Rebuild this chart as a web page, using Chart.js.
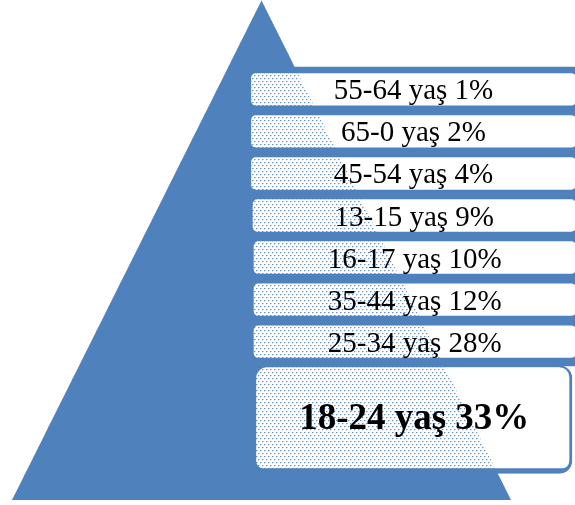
<!DOCTYPE html>
<html>
<head>
<meta charset="utf-8">
<script src="https://cdn.jsdelivr.net/npm/chart.js@4/dist/chart.umd.min.js"></script>
<style>
  html, body { margin: 0; padding: 0; background: #ffffff; }
  #wrap { width: 575px; height: 505px; }
</style>
</head>
<body>
<div id="wrap"><canvas id="c" width="575" height="505"></canvas></div>
<script>
// ---- data ----
const ageGroups = ['55-64 yaş', '65-0 yaş', '45-54 yaş', '13-15 yaş', '16-17 yaş', '35-44 yaş', '25-34 yaş', '18-24 yaş'];
const shares = [1, 2, 4, 9, 10, 12, 28, 33];
const suffix = '%';

// ---- layout (pixel-like units on a 575 x 505 linear grid) ----
const BLUE = '#4f81bd';
const pyramid = { apexX: 261.5, apexY: 0.5, baseY: 500, baseL: 12, baseR: 511 };
const band = { left: 262, right: 576, top: 67, bottom: 366 };
const smallBox = { top0: 73.5, step: 42.05, height: 31.7, right: 575.5, lefts: [251.5, 251.5, 251.5, 253, 254, 254, 254] };
const bigBox = { left: 254.5, right: 572, top: 365.5, bottom: 473.5 };

const nSmall = ageGroups.length - 1;
const pyramidPts = [
  { x: pyramid.baseL, y: pyramid.baseY },
  { x: pyramid.apexX, y: pyramid.apexY },
  { x: pyramid.baseR, y: pyramid.baseY }
];

const smallData = ageGroups.slice(0, nSmall).map((g, i) => ({
  x: [smallBox.lefts[i], smallBox.right],
  y: smallBox.top0 + i * smallBox.step + smallBox.height / 2
}));
const bigData = [{ x: [bigBox.left, bigBox.right], y: (bigBox.top + bigBox.bottom) / 2 }];
const bandData = [{ x: [band.left, band.right], y: (band.top + band.bottom) / 2 }];

// dotted pattern (shows the pyramid through the boxes)
function makePattern() {
  const c = document.createElement('canvas');
  c.width = 4; c.height = 6;
  const g = c.getContext('2d');
  g.fillStyle = 'rgba(79,129,189,0.85)';
  g.fillRect(0, 0, 1, 1);
  g.fillRect(2, 3, 1, 1);
  g.fillStyle = 'rgba(79,129,189,0.4)';
  g.fillRect(1, 0, 1, 1);
  g.fillRect(3, 3, 1, 1);
  g.fillStyle = 'rgba(79,129,189,0.2)';
  g.fillRect(0, 1, 1, 1);
  g.fillRect(2, 4, 1, 1);
  return document.getElementById('c').getContext('2d').createPattern(c, 'repeat');
}
const dots = makePattern();

const labelPlugin = {
  id: 'boxLabels',
  afterDatasetsDraw(chart) {
    const ctx = chart.ctx;
    ctx.save();
    ctx.fillStyle = '#000000';
    ctx.textAlign = 'center';
    ctx.textBaseline = 'alphabetic';
    const smallMeta = chart.getDatasetMeta(2).data;
    smallMeta.forEach((el, i) => {
      const cx = (el.x + el.base) / 2;
      ctx.font = '29px "Liberation Serif", "Times New Roman", serif';
      ctx.fillText(ageGroups[i] + ' ' + shares[i] + suffix, cx, el.y + 10);
    });
    const bigEl = chart.getDatasetMeta(3).data[0];
    const k = ageGroups.length - 1;
    ctx.font = 'bold 37px "Liberation Serif", "Times New Roman", serif';
    ctx.fillText(ageGroups[k] + ' ' + shares[k] + suffix, (bigEl.x + bigEl.base) / 2 + 1, bigEl.y + 9);
    ctx.restore();
  }
};

new Chart(document.getElementById('c'), {
  type: 'scatter',
  data: {
    datasets: [
      {
        type: 'line', data: pyramidPts, order: 10,
        backgroundColor: BLUE, borderColor: 'transparent', borderWidth: 0,
        pointRadius: 0, tension: 0, fill: { value: pyramid.baseY }, showLine: true
      },
      {
        type: 'bar', indexAxis: 'y', data: bandData, order: 9, grouped: false,
        barThickness: band.bottom - band.top, backgroundColor: BLUE, borderWidth: 0, borderSkipped: false
      },
      {
        type: 'bar', indexAxis: 'y', data: smallData, order: 8, grouped: false,
        barThickness: smallBox.height, backgroundColor: '#ffffff',
        borderColor: BLUE, borderWidth: 0, borderRadius: 4.5, borderSkipped: false
      },
      {
        type: 'bar', indexAxis: 'y', data: bigData, order: 7, grouped: false,
        barThickness: bigBox.bottom - bigBox.top, backgroundColor: '#ffffff',
        borderColor: BLUE, borderWidth: { top: 2, left: 2, right: 3, bottom: 5.5 },
        borderRadius: 13, borderSkipped: false
      },
      {
        type: 'line', data: pyramidPts, order: 6,
        backgroundColor: dots, borderColor: 'transparent', borderWidth: 0,
        pointRadius: 0, tension: 0, fill: { value: pyramid.baseY }, showLine: true
      }
    ]
  },
  options: {
    responsive: false,
    animation: false,
    events: [],
    layout: { padding: 0 },
    plugins: { legend: { display: false }, tooltip: { enabled: false } },
    scales: {
      x: { type: 'linear', min: 0, max: 575, display: false, offset: false },
      y: { type: 'linear', min: 0, max: 505, reverse: true, display: false, offset: false }
    }
  },
  plugins: [labelPlugin]
});
</script>
</body>
</html>
